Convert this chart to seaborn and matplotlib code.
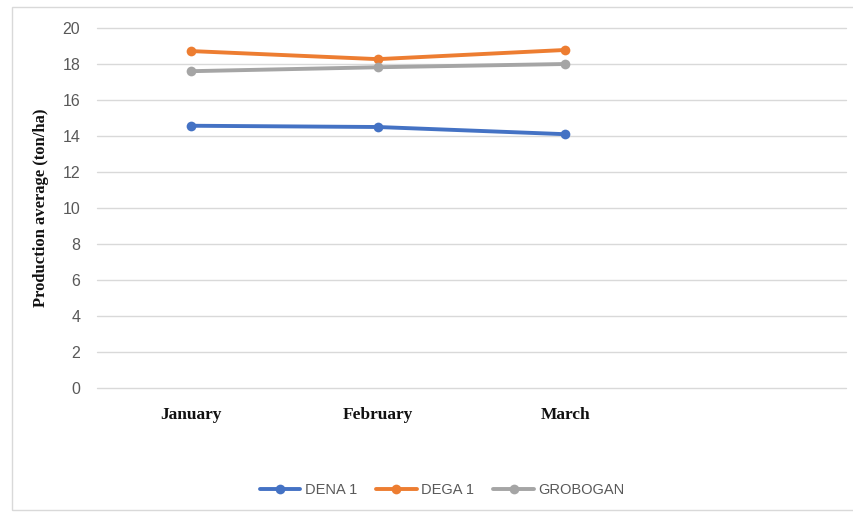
import numpy as np
import pandas as pd
import seaborn as sns
import matplotlib.pyplot as plt
from matplotlib.patches import Rectangle

months = ['January', 'February', 'March']
dena_1 = [14.57, 14.5, 14.1]
dega_1 = [18.72, 18.27, 18.78]
grobogan = [17.6, 17.82, 18.0]
varieties = ['DENA 1', 'DEGA 1', 'GROBOGAN']
colors = ['#4472C4', '#ED7D31', '#A5A5A5']

rows = []
for name, vals in zip(varieties, [dena_1, dega_1, grobogan]):
    for i, v in enumerate(vals):
        rows.append({'month': i, 'value': v, 'variety': name})
df = pd.DataFrame(rows)

sns.set_theme(style='white')
plt.rcParams['font.family'] = ['Liberation Sans', 'DejaVu Sans']

fig = plt.figure(figsize=(8.54, 5.13), dpi=100)
ax = fig.add_axes([0.1136, 0.2437, 0.877, 0.7017])

sns.lineplot(data=df, x='month', y='value', hue='variety', palette=colors,
             hue_order=varieties, marker='o', markersize=7, markeredgewidth=0,
             linewidth=2.8, ax=ax, legend=True)

ax.set_xlim(-0.5, 3.5)
ax.set_ylim(0, 20)
ax.set_yticks(np.arange(0, 21, 2))
ax.yaxis.grid(True, color='#D9D9D9', linewidth=1)
for gl in ax.get_ygridlines():
    gl.set_clip_on(False)
ax.set_axisbelow(True)
for s in ax.spines.values():
    s.set_visible(False)
ax.tick_params(axis='y', length=0, pad=12, labelsize=11.5, labelcolor='#595959')
ax.set_xticks(range(len(months)))
ax.set_xticklabels(months, family='Liberation Serif', fontweight='bold', fontsize=12.5)
ax.tick_params(axis='x', length=0, pad=14, labelcolor='#111111')
ax.set_xlabel('')
ax.set_ylabel('Production average (ton/ha)', family='Liberation Serif',
              fontweight='bold', fontsize=12, color='#111111', labelpad=10)

handles, labels = ax.get_legend_handles_labels()
ax.legend(handles, labels, loc='center', bbox_to_anchor=(0.5176, 0.045),
          bbox_transform=fig.transFigure, ncol=3, frameon=False, fontsize=10.5,
          labelcolor='#595959', handlelength=2.8, columnspacing=1.3, handletextpad=0.3)

fig.patches.append(Rectangle((12 / 854, 3 / 513), 1.0, 1 - 10 / 513,
                             transform=fig.transFigure, fill=False,
                             edgecolor='#D9D9D9', linewidth=1))

fig.savefig('out.png', dpi=100)
